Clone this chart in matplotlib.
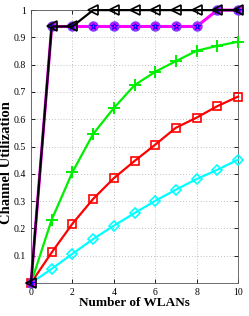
import matplotlib
matplotlib.use("Agg")
import matplotlib.pyplot as plt

plt.rcParams['font.family'] = ['Liberation Serif', 'DejaVu Serif']

# data
n_wlans = [0, 1, 2, 3, 4, 5, 6, 7, 8, 9, 10]
black_tri = [0, 0.94, 0.94, 1.0, 1.0, 1.0, 1.0, 1.0, 1.0, 1.0, 1.0]
blue_star = [0, 0.94, 0.94, 0.94, 0.94, 0.94, 0.94, 0.94, 0.94, 1.0, 1.0]
magenta_circ = [0, 0.94, 0.94, 0.94, 0.94, 0.94, 0.94, 0.94, 0.94, 1.0, 1.0]
green_plus = [0, 0.232, 0.406, 0.546, 0.641, 0.725, 0.774, 0.813, 0.851, 0.869, 0.884]
red_sq = [0, 0.112, 0.217, 0.308, 0.384, 0.447, 0.507, 0.569, 0.606, 0.648, 0.683]
cyan_dia = [0, 0.052, 0.107, 0.161, 0.210, 0.256, 0.301, 0.342, 0.381, 0.415, 0.452]
y_ticks = [0.1, 0.2, 0.3, 0.4, 0.5, 0.6, 0.7, 0.8, 0.9, 1]
x_ticks = [0, 2, 4, 6, 8, 10]

fig = plt.figure(figsize=(2.49, 3.16), dpi=100)
ax = fig.add_axes([0.1245, 0.1044, 0.8315, 0.8636])

lw = 1.6
ax.plot(n_wlans, cyan_dia, color='cyan', marker='D', ms=5, mfc='none', mew=1.2, lw=lw, clip_on=False, zorder=3)
ax.plot(n_wlans, red_sq, color='red', marker='s', ms=6, mfc='none', mew=1.2, lw=lw, clip_on=False, zorder=3)
ax.plot(n_wlans, green_plus, color='#00ee00', marker='+', ms=8, mew=1.4, lw=lw, clip_on=False, zorder=3)
ax.plot(n_wlans, magenta_circ, color='magenta', marker='o', ms=6.5, mfc='magenta', mec='#7a3cff', mew=1.0, lw=2.2, clip_on=False, zorder=3)
ax.plot(n_wlans, blue_star, color='magenta', marker='*', ms=5, mfc='none', mec='blue', mew=0.7, lw=0, clip_on=False, zorder=4)
ax.plot(n_wlans, black_tri, color='black', marker='<', ms=6.5, mfc='none', mew=1.2, lw=lw, clip_on=False, zorder=5)

ax.set_xlim(0, 10)
ax.set_ylim(0, 1)
ax.set_xticks(x_ticks)
ax.set_yticks(y_ticks)
ax.set_yticklabels(['0.1', '0.2', '0.3', '0.4', '0.5', '0.6', '0.7', '0.8', '0.9', '1'])
ax.tick_params(labelsize=7, direction='in', length=3, width=0.6, top=True, right=True)
ax.grid(True, linestyle=(0, (1, 2.5)), color='#aaaaaa', linewidth=0.6)
for s in ax.spines.values():
    s.set_linewidth(0.6)
    s.set_color('#555555')

ax.set_xlabel('Number of WLANs', fontsize=9.5, fontweight='bold', labelpad=0)
ax.set_ylabel('Channel Utilization', fontsize=10.5, fontweight='bold')
ax.yaxis.set_label_coords(-0.085, 0.44)

fig.savefig('out.png', dpi=100)
